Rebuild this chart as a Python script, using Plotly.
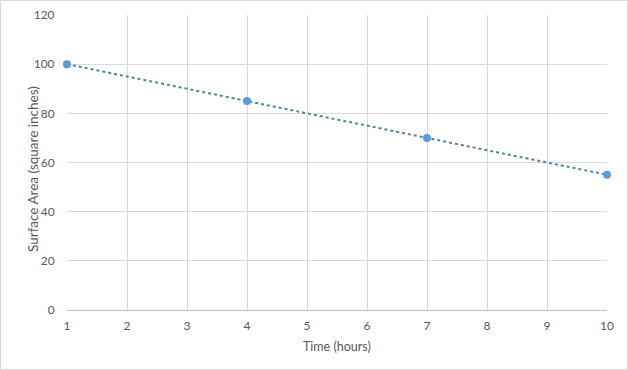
import plotly.graph_objects as go

time_hours = [1, 4, 7, 10]
surface_area = [100, 85, 70, 55]
x_ticks = list(range(1, 11))
y_ticks = [0, 20, 40, 60, 80, 100, 120]
x_title = "Time (hours)"
y_title = "Surface Area (square inches)"

W, H = 628, 370
L, R, T, B = 67, 21, 15, 60
pw, ph = W - L - R, H - T - B

fig = go.Figure()
fig.add_trace(go.Scatter(
    x=time_hours, y=surface_area, mode="lines+markers",
    line=dict(color="#4F81AE", width=2, dash="dot"),
    marker=dict(color="#5B9BD5", size=8, symbol="circle"),
    showlegend=False, cliponaxis=False,
))

font_fam = "Lato, Open Sans, sans-serif"
fig.update_layout(
    width=W, height=H,
    margin=dict(l=L, r=R, t=T, b=B, autoexpand=False),
    paper_bgcolor="white", plot_bgcolor="white",
    font=dict(family=font_fam, size=12, color="#595959"),
    xaxis=dict(range=[1, 10], tickvals=x_ticks, showgrid=True, gridcolor="#D9D9D9",
               zeroline=False, showline=True, linecolor="#BFBFBF",
               ticks="outside", ticklen=5, tickcolor="rgba(0,0,0,0)", automargin=False,
               tickfont=dict(size=12, color="#595959")),
    yaxis=dict(range=[0, 120], tickvals=y_ticks, showgrid=True, gridcolor="#D9D9D9",
               zeroline=False, showline=False,
               ticks="outside", ticklen=9, tickcolor="rgba(0,0,0,0)", automargin=False,
               tickfont=dict(size=12, color="#595959")),
    annotations=[
        dict(text=x_title, xref="paper", yref="paper", x=(337 - L) / pw, y=1 - (346 - T) / ph,
             showarrow=False, xanchor="center", yanchor="middle",
             font=dict(size=12.5, color="#595959")),
        dict(text=y_title, xref="paper", yref="paper", x=(33 - L) / pw, y=1 - (169 - T) / ph,
             textangle=-90, showarrow=False, xanchor="center", yanchor="middle",
             font=dict(size=13.5, color="#595959")),
    ],
    shapes=[dict(type="rect", xref="paper", yref="paper",
                 x0=(0.5 - L) / pw, x1=(W - 0.5 - L) / pw,
                 y0=-(B - 0.5) / ph,
                 y1=(H - B - 0.5) / ph,
                 line=dict(color="#D9D9D9", width=1), layer="below")],
)
fig.write_html("out.html")
